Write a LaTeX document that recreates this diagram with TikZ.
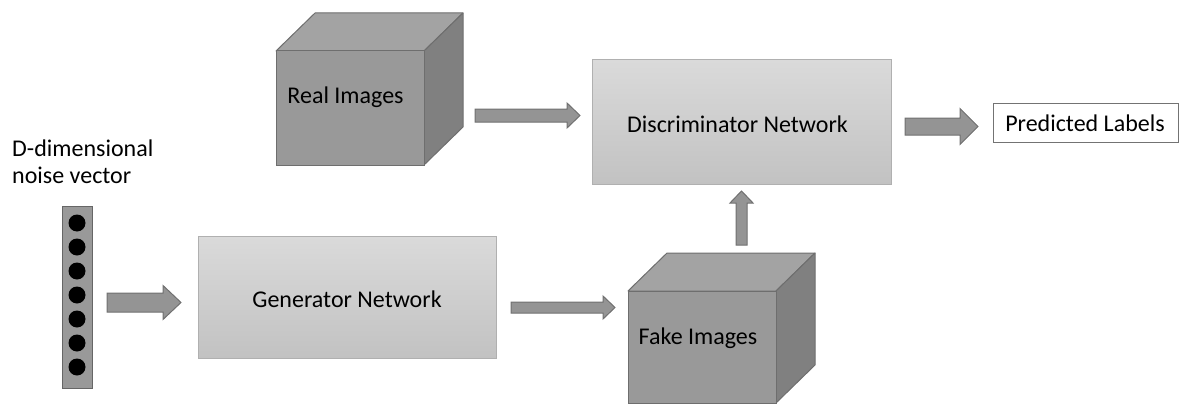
\documentclass[tikz,border=0pt]{standalone}
\usepackage{fontspec}
\setmainfont{Carlito}
\usetikzlibrary{calc}
\definecolor{cubefront}{HTML}{999999}
\definecolor{cubetop}{HTML}{A3A3A3}
\definecolor{cubeside}{HTML}{808080}
\definecolor{cubeedge}{HTML}{6E6E6E}
\definecolor{boxtop}{HTML}{DADADA}
\definecolor{boxbot}{HTML}{C2C2C2}
\definecolor{boxedge}{HTML}{B0B0B0}
\definecolor{arrfill}{HTML}{949494}
\definecolor{arredge}{HTML}{707070}
\tikzset{
  lbl/.style={font=\fontsize{24}{27}\selectfont, text=black, inner sep=0pt},
  netbox/.style={draw=boxedge, line width=1pt, top color=boxtop, bottom color=boxbot, inner sep=0pt},
  front/.style={draw=cubeedge, line width=1pt, fill=cubefront, inner sep=0pt},
  topface/.style={draw=cubeedge, line width=1pt, fill=cubetop, line join=round},
  sideface/.style={draw=cubeedge, line width=1pt, fill=cubeside, line join=round},
  blockarrow/.style={draw=arredge, line width=1pt, fill=arrfill, line join=miter},
  outbox/.style={draw=black!55, line width=1pt, fill=white, inner sep=0pt},
  vecbox/.style={draw=black!60, line width=1pt, fill=cubefront, inner sep=0pt},
  dot/.style={circle, fill=black, inner sep=0pt, minimum size=17pt}
}
% horizontal block arrow: x1, x2 (tip), yc, shaft half, head half, head start
\newcommand\harrow[6]{%
  \draw[blockarrow] (#1,#3-#4) -- (#6,#3-#4) -- (#6,#3-#5) -- (#2,#3)
    -- (#6,#3+#5) -- (#6,#3+#4) -- (#1,#3+#4) -- cycle;}
\begin{document}
\begin{tikzpicture}[x=1pt,y=-1pt]
\useasboundingbox (0,0) rectangle (1180,404);

% Real images cube
\draw[topface] (276,51) -- (315,13) -- (463,13) -- (424,51) -- cycle;
\draw[sideface] (424,51) -- (463,13) -- (463,127) -- (424,165) -- cycle;
\node[front, minimum width=148pt, minimum height=114pt] (real) at (350,108) {};
\node[lbl] (reallbl) at (345.5,97) {Real Images};

% Fake images cube
\draw[topface] (628,291) -- (667,253) -- (815,253) -- (776,291) -- cycle;
\draw[sideface] (776,291) -- (815,253) -- (815,365) -- (776,403) -- cycle;
\node[front, minimum width=148pt, minimum height=112pt] (fake) at (702,347) {};
\node[lbl] (fakelbl) at (698,338) {Fake Images};

% Discriminator
\node[netbox, minimum width=299pt, minimum height=124pt] (disc) at (741.5,122) {};
\node[lbl] (disclbl) at (737.5,124) {Discriminator Network};

% Generator
\node[netbox, minimum width=298pt, minimum height=122pt] (gen) at (347,297) {};
\node[lbl] (genlbl) at (347,299) {Generator Network};

% Predicted labels
\node[outbox, minimum width=185pt, minimum height=39pt] (pred) at (1085.5,122.5) {};
\node[lbl] (predlbl) at (1085,123) {Predicted Labels};

% Noise vector
\node[vecbox, minimum width=30pt, minimum height=182pt] (vec) at (77,297) {};
\foreach \i in {0,...,6} {
  \node[dot] (d\i) at (77,223+24*\i) {};
}
\node[lbl, anchor=west, align=left] (noiselbl) at (12,161.5) {D-dimensional\\noise vector};

% Block arrows
\harrow{107}{181}{302.5}{9.5}{17}{163}
\harrow{511}{615}{307.5}{5.5}{11.5}{603}
\harrow{475}{580}{115.5}{6.5}{12.5}{567}
\harrow{905}{978}{126.5}{8.5}{18}{960}
% vertical arrow (fake -> disc)
\draw[blockarrow] (736,245) -- (736,203) -- (730,203) -- (741.5,191) -- (753,203)
  -- (747,203) -- (747,245) -- cycle;
\end{tikzpicture}
\end{document}
